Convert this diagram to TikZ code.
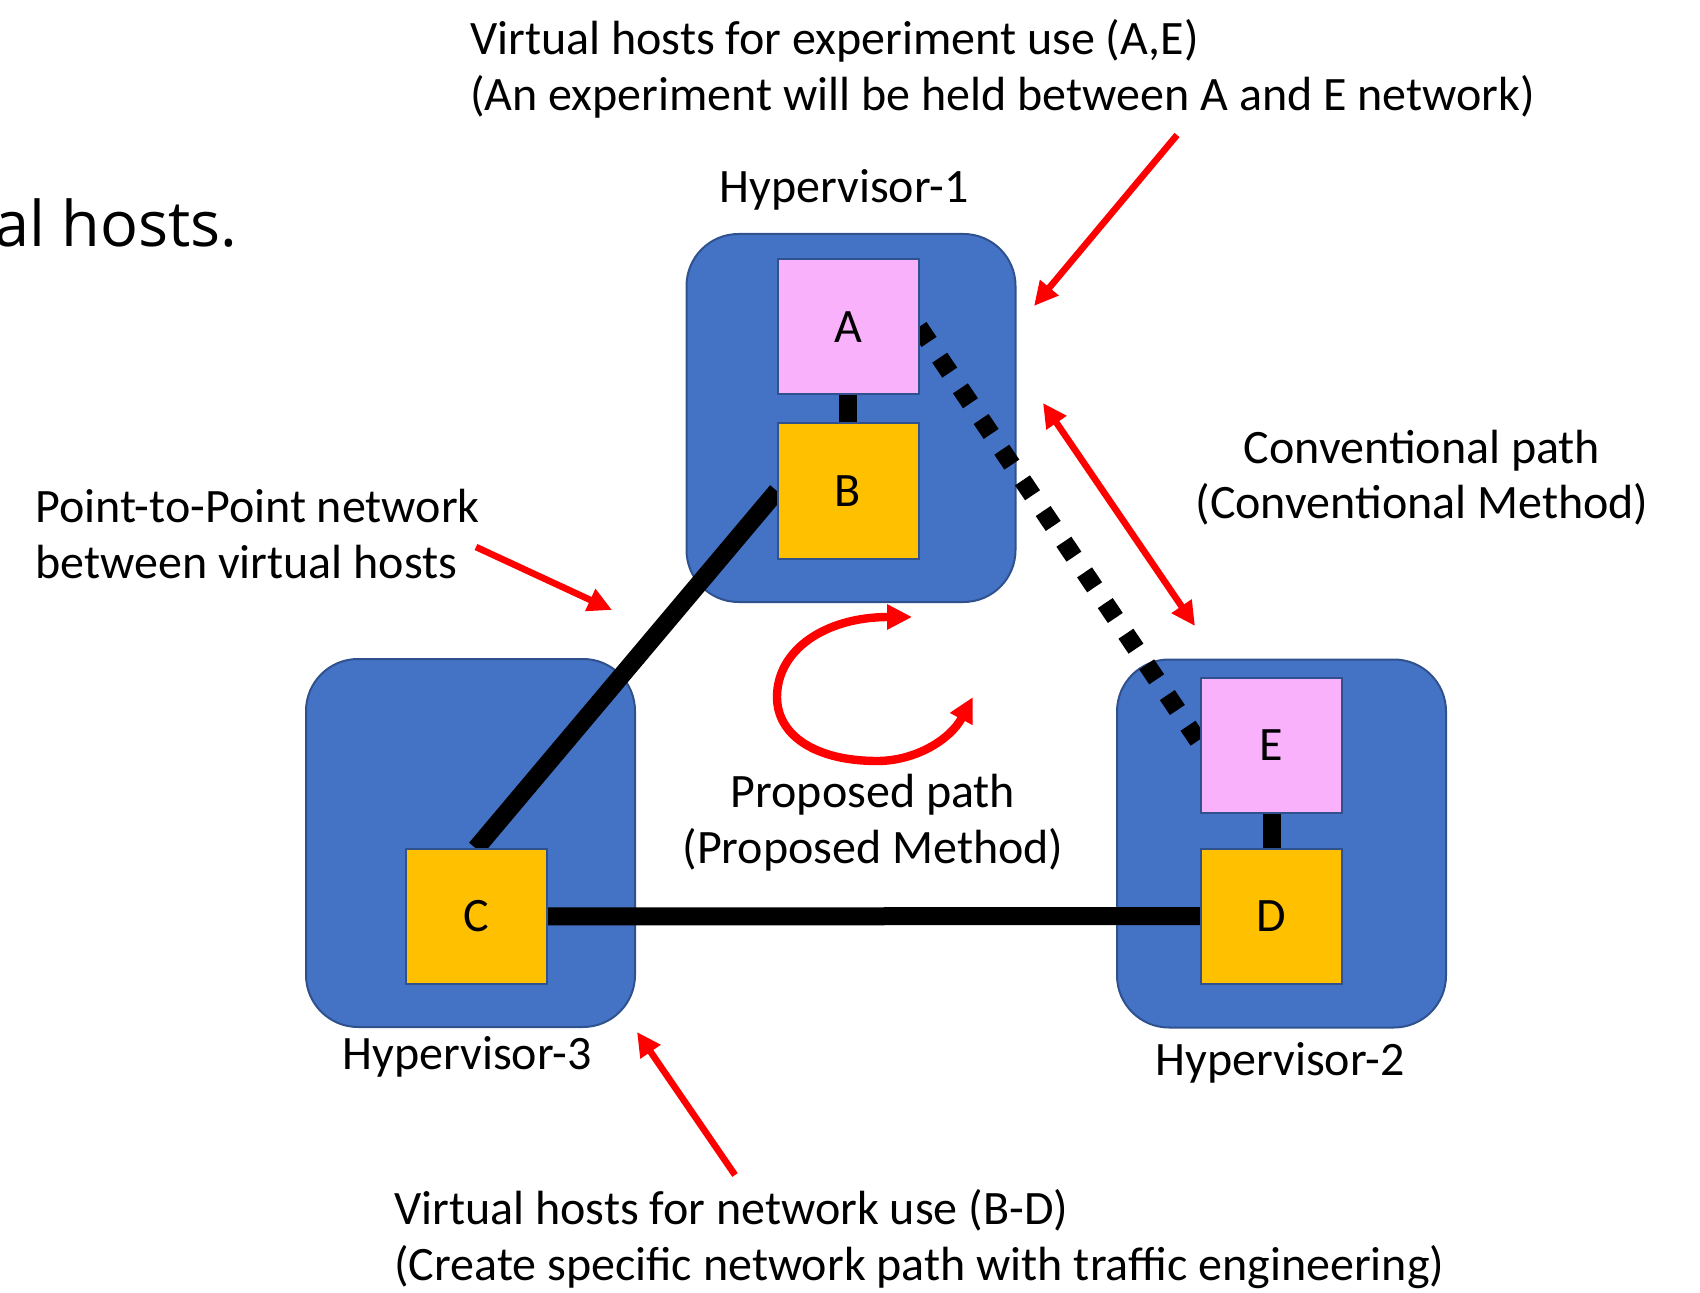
\documentclass[tikz,border=0pt]{standalone}
\usepackage{fontspec}
\setmainfont{Carlito}
\newfontfamily\slidefont{Open Sans}
\usetikzlibrary{arrows.meta}
\definecolor{hvblue}{HTML}{4472C4}
\definecolor{hvedge}{HTML}{2F528F}
\definecolor{vmpink}{HTML}{F9B1FB}
\definecolor{vmorange}{HTML}{FFC000}
\begin{document}
\begin{tikzpicture}[x=0.5pt,y=-0.5pt,
  hyper/.style={draw=hvedge, line width=1pt, fill=hvblue, rounded corners=26pt,
    minimum width=164.5pt, minimum height=184pt, inner sep=0pt},
  vm/.style={draw=hvedge, line width=1pt, minimum width=70.5pt, minimum height=67.5pt,
    inner sep=0pt, font=\fontsize{24}{28}\selectfont},
  txt/.style={inner sep=0pt, font=\fontsize{24}{28}\selectfont},
  link/.style={line width=9pt},
  redtip/.tip={Triangle[length=12pt,width=11.5pt]},
  note/.style={red, line width=3.3pt, -redtip},
]
\useasboundingbox (0,0) rectangle (1700,1293);

% hypervisors
\node[hyper] (hv1) at (851,418) {};
\node[hyper] (hv3) at (470.5,843) {};
\node[hyper] (hv2) at (1281.5,843.5) {};

% host positions (coordinates for links)
\coordinate (Ac) at (848,327);
\coordinate (Bc) at (848,491);
\coordinate (Cc) at (476,916.5);
\coordinate (Dc) at (1271.5,916);
\coordinate (Ec) at (1271.5,745);

% links (drawn below hosts)
\draw[link] (848,491) ++(-71,0) coordinate (Bw) -- (476,848.5) coordinate (Cn);
\draw[link] (Cc) -- (Dc);
\draw[link] (Ac) -- (Bc);
\draw[link] (Ec) -- (Dc);
\draw[link, dash pattern=on 9pt off 9.5pt] (919,327) coordinate (Ae) -- (1201,745) coordinate (Ew);

% hosts
\node[vm, fill=vmpink] (A) at (Ac) {A};
\node[vm, fill=vmorange] (B) at (Bc) {B};
\node[vm, fill=vmorange] (C) at (Cc) {C};
\node[vm, fill=vmorange] (D) at (Dc) {D};
\node[vm, fill=vmpink] (E) at (Ec) {E};

% labels (multi-line nodes: base = last line)
\node[inner sep=0pt, anchor=base east, font=\slidefont\fontsize{31.5}{36}\selectfont] (slide) at (238,247) {al hosts.};
\node[txt, anchor=base west, align=left] (topnote) at (470,111)
  {Virtual hosts for experiment use (A,E)\\(An experiment will be held between A and E network)};
\node[txt, anchor=base] (hv1lab) at (844,203) {Hypervisor-1};
\node[txt, anchor=base, align=center] (convlab) at (1422,519) {Conventional path\\(Conventional Method)};
\node[txt, anchor=base west, align=left] (p2plab) at (35,578) {Point-to-Point network\\between virtual hosts};
\node[txt, anchor=base, align=center] (proplab) at (873,863) {Proposed path\\(Proposed Method)};
\node[txt, anchor=base] (hv3lab) at (467,1069) {Hypervisor-3};
\node[txt, anchor=base] (hv2lab) at (1280,1075) {Hypervisor-2};
\node[txt, anchor=base west, align=left] (botnote) at (394,1280)
  {Virtual hosts for network use (B-D)\\(Create specific network path with traffic engineering)};

% red annotation arrows
\coordinate (t1) at (1177,135); \coordinate (h1) at (1034,306);
\draw[note] (t1) -- (h1);
\coordinate (t2) at (1043,403); \coordinate (h2) at (1195,626);
\draw[note, redtip-redtip] (t2) -- (h2);
\coordinate (t3) at (476,547); \coordinate (h3) at (612,610);
\draw[note] (t3) -- (h3);
\coordinate (t4) at (735,1175); \coordinate (h4) at (637,1032);
\draw[note] (t4) -- (h4);
\coordinate (c1) at (973,697); \coordinate (c2) at (912,617);
\draw[red, line width=4.2pt, {Triangle[length=12.5pt,width=12pt]}-{Triangle[length=12.5pt,width=12pt]}]
  (c1) .. controls (950,740) and (915,761) .. (877,761)
  .. controls (815,761) and (777,735) .. (777,697)
  .. controls (777,650) and (825,617) .. (c2);
\end{tikzpicture}
\end{document}
